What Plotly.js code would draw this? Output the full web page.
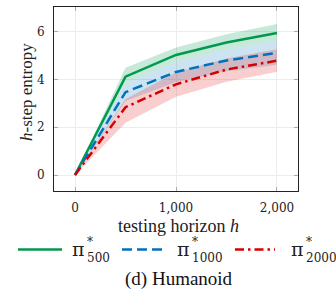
<!DOCTYPE html>
<html><head><meta charset="utf-8">
<script src="https://cdn.plot.ly/plotly-3.0.1.min.js"></script>
<style>body{margin:0;background:#fff}#c{width:336px;height:291px}</style>
</head><body><div id="c"></div>
<script>
const horizon = [0, 500, 1000, 1500, 2000];
const mean500 = [0, 4.12, 5.03, 5.55, 5.95];
const upper500 = [0, 4.49, 5.34, 5.9, 6.33];
const lower500 = [0, 3.85, 4.75, 5.25, 5.63];
const mean1000 = [0, 3.47, 4.32, 4.8, 5.12];
const upper1000 = [0, 3.85, 4.75, 5.25, 5.63];
const lower1000 = [0, 3.1, 3.9, 4.35, 4.62];
const mean2000 = [0, 2.84, 3.8, 4.42, 4.79];
const upper2000 = [0, 3.19, 4.3, 4.88, 5.27];
const lower2000 = [0, 2.19, 3.28, 3.91, 4.33];
const xTickVals = [0, 1000, 2000];
const xTickText = ['0', '1,000', '2,000'];
const yTickVals = [0, 2, 4, 6];
const seriesSub = ['500', '1000', '2000'];

const L = 54, T = 7, W = 244, H = 184;
const px = v => (v - L) / W;
const py = v => (T + H - v) / H;

const colors = ['rgb(0,153,77)', 'rgb(0,114,189)', 'rgb(215,0,0)'];
const fills = ['rgba(0,155,85,0.22)', 'rgba(0,114,189,0.2)', 'rgba(225,30,30,0.22)'];
const dashes = ['solid', '10px,5px', '9px,4px,2.5px,4px'];

function band(up, lo, color) {
  return {x: horizon.concat(horizon.slice().reverse()), y: up.concat(lo.slice().reverse()),
    fill: 'toself', fillcolor: color, line: {width: 0}, mode: 'lines', showlegend: false, hoverinfo: 'skip'};
}
const means = [mean500, mean1000, mean2000];
const data = [
  band(upper500, lower500, fills[0]),
  band(upper1000, lower1000, fills[1]),
  band(upper2000, lower2000, fills[2])
];
means.forEach((m, i) => data.push({x: horizon, y: m, mode: 'lines', showlegend: false,
  line: {color: colors[i], width: 2.5, dash: dashes[i]}}));

const serif = "'Liberation Serif', 'Times New Roman', serif";
const dserif = "'DejaVu Serif', serif";
const tickFont = {family: dserif, size: 12, color: '#222'};

// legend built from shapes + annotations
const legLines = [[18, 62], [122, 162], [235, 275]];
const legText = [70, 175, 289];
const shapes = [], annotations = [];
legLines.forEach((s, i) => {
  shapes.push({type: 'line', xref: 'paper', yref: 'paper', x0: px(s[0]), x1: px(s[1]), y0: py(249.5), y1: py(249.5),
    line: {color: colors[i], width: 2.5, dash: dashes[i]}});
  annotations.push({text: 'π', xref: 'paper', yref: 'paper', x: px(legText[i]), xanchor: 'left', y: py(249), yanchor: 'middle',
    showarrow: false, font: {family: dserif, size: 19, color: '#222'}});
  annotations.push({text: '*<br>' + seriesSub[i], align: 'left', xref: 'paper', yref: 'paper', x: px(legText[i] + 15), xanchor: 'left',
    y: py(250), yanchor: 'middle', showarrow: false, font: {family: dserif, size: 12, color: '#222'}});
});
annotations.push({text: '(d) Humanoid', xref: 'paper', yref: 'paper', x: px(179), xanchor: 'center',
  y: py(278.5), yanchor: 'middle', showarrow: false, font: {family: serif, size: 19, color: '#111'}});
annotations.push({text: 'testing horizon <i>h</i>', xref: 'paper', yref: 'paper', x: px(178), xanchor: 'center',
  y: py(226), yanchor: 'middle', showarrow: false, font: {family: serif, size: 18, color: '#222'}});
annotations.push({text: '<i>h</i>-step entropy', xref: 'paper', yref: 'paper', x: px(26), xanchor: 'center',
  y: py(92), yanchor: 'middle', textangle: -90, showarrow: false, font: {family: serif, size: 17, color: '#222'}});

const axisCommon = {showgrid: true, gridcolor: '#ececec', zeroline: false,
  showline: true, linecolor: '#222', linewidth: 1, mirror: 'allticks',
  ticks: 'inside', ticklen: 4, tickcolor: '#aaa', tickfont: tickFont};
const layout = {
  width: 336, height: 291,
  margin: {l: L, r: 336 - L - W, t: T, b: 291 - T - H, autoexpand: false},
  paper_bgcolor: '#fff', plot_bgcolor: '#fff',
  font: {family: serif, size: 13, color: '#222'},
  showlegend: false,
  xaxis: Object.assign({range: [-208, 2208], tickvals: xTickVals, ticktext: xTickText, ticklabelstandoff: 6}, axisCommon),
  yaxis: Object.assign({range: [-0.67, 7.04], tickvals: yTickVals, ticklabelstandoff: 6}, axisCommon),
  shapes: shapes,
  annotations: annotations
};
Plotly.newPlot('c', data, layout, {displayModeBar: false, staticPlot: true});
</script></body></html>
